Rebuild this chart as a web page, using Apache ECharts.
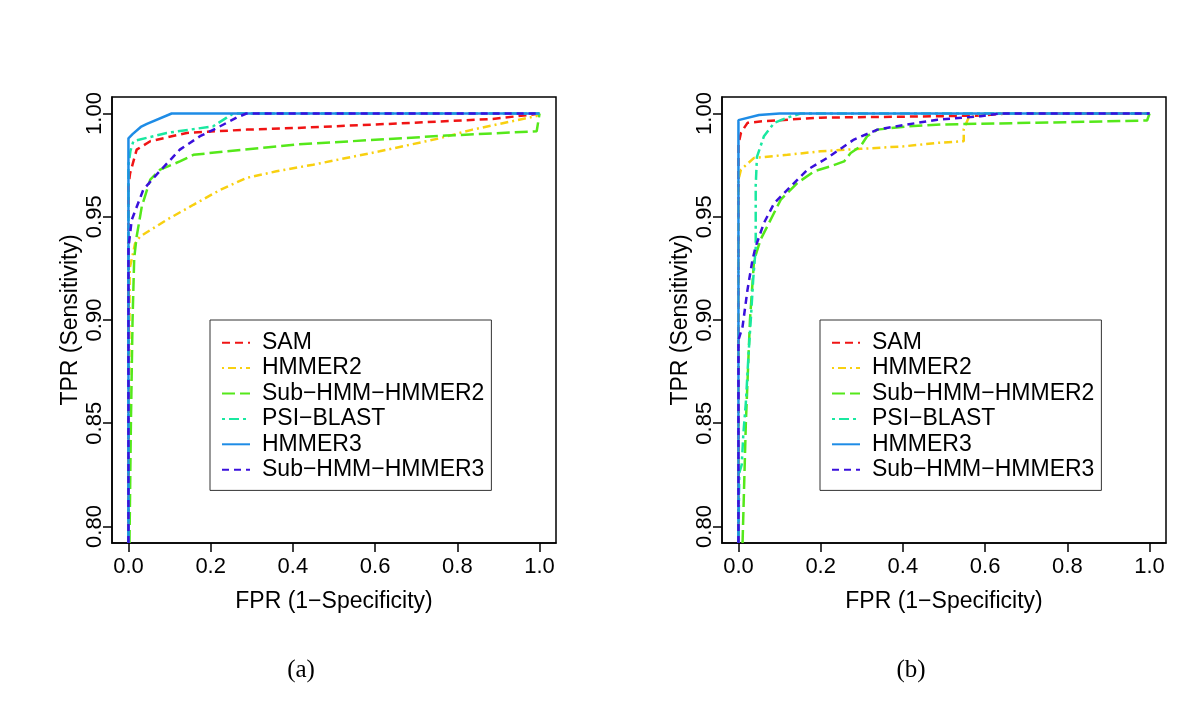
<!DOCTYPE html>
<html>
<head>
<meta charset="utf-8">
<script src="https://cdn.jsdelivr.net/npm/echarts@6/dist/echarts.min.js"></script>
<style>html,body{margin:0;padding:0;background:#fff;}#c{width:1200px;height:706px;}</style>
</head>
<body>
<div id="c"></div>
<script>
// ---- data ----
const seriesNames = ['SAM', 'HMMER2', 'Sub\u2212HMM\u2212HMMER2', 'PSI\u2212BLAST', 'HMMER3', 'Sub\u2212HMM\u2212HMMER3'];
const xTicks = [0, 0.2, 0.4, 0.6, 0.8, 1.0];
const yTicks = [0.80, 0.85, 0.90, 0.95, 1.00];
const captions = ['(a)', '(b)'];

// panel (a): [FPR, TPR]
const samA = [[0,0.792],[0,0.965],[0.004,0.971],[0.02,0.9825],[0.053,0.9866],[0.142,0.9906],[0.287,0.9922],[0.409,0.993],[0.692,0.9955],[0.886,0.9974],[0.983,0.9995],[1,1]];
const hmmer2A = [[0,0.792],[0.003,0.925],[0.012,0.933],[0.016,0.937],[0.028,0.9404],[0.093,0.9485],[0.158,0.9558],[0.223,0.963],[0.287,0.9688],[0.36,0.972],[0.449,0.9752],[0.611,0.9817],[0.757,0.988],[0.837,0.9922],[0.934,0.9963],[0.991,0.9987],[1,1]];
const subHmmer2A = [[0.0025,0.792],[0.006,0.85],[0.01,0.9],[0.014,0.93],[0.02,0.9404],[0.0325,0.955],[0.053,0.968],[0.077,0.9728],[0.125,0.9768],[0.158,0.98],[0.239,0.9817],[0.32,0.9833],[0.409,0.985],[0.611,0.9874],[0.773,0.9893],[0.993,0.9914],[1,1]];
const psiBlastA = [[0,0.792],[0,0.975],[0.005,0.982],[0.012,0.9866],[0.093,0.9906],[0.206,0.9938],[0.239,0.998],[0.255,1],[1,1]];
const hmmer3A = [[0,0.792],[0,0.988],[0.01,0.99],[0.03,0.9935],[0.045,0.995],[0.105,1],[1,1]];
const subHmmer3A = [[0,0.792],[0,0.935],[0.008,0.9485],[0.036,0.963],[0.061,0.9688],[0.125,0.9825],[0.174,0.989],[0.215,0.993],[0.263,0.998],[0.287,1],[1,1]];

// panel (b)
const samB = [[0,0.792],[0,0.985],[0.006,0.9906],[0.022,0.9955],[0.062,0.9963],[0.2,0.998],[0.49,0.9987],[0.589,0.999],[0.65,1],[1,1]];
const hmmer2B = [[0,0.792],[0,0.968],[0.006,0.9728],[0.038,0.9785],[0.119,0.98],[0.2,0.9817],[0.297,0.9829],[0.402,0.9841],[0.484,0.9858],[0.548,0.9866],[0.548,0.9925],[0.56,0.998],[0.6,1],[1,1]];
const subHmmer2B = [[0.01,0.792],[0.018,0.85],[0.028,0.9],[0.038,0.929],[0.046,0.934],[0.054,0.939],[0.07,0.9453],[0.103,0.9583],[0.143,0.9663],[0.184,0.972],[0.224,0.9744],[0.257,0.9768],[0.273,0.9809],[0.297,0.9841],[0.313,0.989],[0.338,0.9922],[0.411,0.9938],[0.492,0.9947],[0.718,0.9955],[0.994,0.9966],[1,1]];
const psiBlastB = [[0,0.792],[0.002,0.826],[0.008,0.83],[0.012,0.845],[0.018,0.86],[0.025,0.885],[0.03,0.9],[0.036,0.92],[0.042,0.935],[0.042,0.965],[0.045,0.979],[0.062,0.989],[0.087,0.9955],[0.119,0.998],[0.151,1],[1,1]];
const hmmer3B = [[0,0.792],[0,0.9968],[0.05,0.9993],[0.1,1],[1,1]];
const subHmmer3B = [[0,0.792],[0,0.8903],[0.01,0.8968],[0.022,0.9146],[0.034,0.929],[0.042,0.9356],[0.062,0.947],[0.087,0.9566],[0.127,0.9647],[0.168,0.9728],[0.216,0.9785],[0.281,0.9874],[0.338,0.9922],[0.411,0.9947],[0.484,0.997],[0.589,0.9987],[0.637,1],[1,1]];

const panelData = [
  [samA, hmmer2A, subHmmer2A, psiBlastA, hmmer3A, subHmmer3A],
  [samB, hmmer2B, subHmmer2B, psiBlastB, hmmer3B, subHmmer3B]
];

// ---- styles ----
const colors = ['#F01414', '#F8D010', '#55E81A', '#19E8A0', '#1E8CE6', '#3A10DC'];
const dashes = [[8, 5], [2, 4, 8, 4], [13, 5], [3, 4, 10, 4], 'solid', [7, 5]];
const FONT = '"Liberation Sans", Arial, Helvetica, sans-serif';
const gridLefts = [112, 722];

const grids = [], xAxes = [], yAxes = [], series = [], legends = [], graphics = [];
for (let p = 0; p < 2; p++) {
  grids.push({ left: gridLefts[p], top: 97, width: 444, height: 446, show: true, borderColor: '#000', borderWidth: 1.5, backgroundColor: 'transparent' });
  xAxes.push({
    type: 'value', gridIndex: p, min: -0.04, max: 1.04, position: 'bottom',
    name: 'FPR (1\u2212Specificity)', nameLocation: 'middle', nameGap: 47,
    nameTextStyle: { fontFamily: FONT, fontSize: 23, color: '#000' },
    axisLine: { show: true, onZero: false, lineStyle: { color: '#000', width: 1.5 } },
    axisTick: { show: true, inside: false, length: 9, customValues: xTicks, lineStyle: { color: '#000', width: 1.5 } },
    axisLabel: { customValues: xTicks, margin: 13, fontFamily: FONT, fontSize: 22, color: '#000', formatter: v => v.toFixed(1) },
    splitLine: { show: false }
  });
  yAxes.push({
    type: 'value', gridIndex: p, min: 0.792, max: 1.008, position: 'left',
    name: 'TPR (Sensitivity)', nameLocation: 'middle', nameGap: 30, nameMoveOverlap: false,
    nameTextStyle: { fontFamily: FONT, fontSize: 23, color: '#000' },
    axisLine: { show: true, onZero: false, lineStyle: { color: '#000', width: 1.5 } },
    axisTick: { show: true, inside: false, length: 9, customValues: yTicks, lineStyle: { color: '#000', width: 1.5 } },
    axisLabel: { customValues: yTicks, rotate: 90, margin: 6, fontFamily: FONT, fontSize: 22, color: '#000', formatter: v => v.toFixed(2) },
    splitLine: { show: false }
  });
  for (let s = 0; s < seriesNames.length; s++) {
    series.push({
      type: 'line', name: seriesNames[s], xAxisIndex: p, yAxisIndex: p,
      data: panelData[p][s], showSymbol: false, symbol: 'none', animation: false,
      lineStyle: { color: colors[s], width: 2.5, type: dashes[s] },
      itemStyle: { color: colors[s] }, z: 2 + s
    });
  }
  legends.push({
    orient: 'vertical', left: gridLefts[p] + 98, top: 320,
    data: seriesNames, itemWidth: 28, itemHeight: 10, itemGap: 0,
    padding: [10, 7, 8, 11], borderColor: '#333', borderWidth: 1, backgroundColor: '#fff',
    selectedMode: false, itemStyle: { opacity: 0 },
    textStyle: { fontFamily: FONT, fontSize: 23, color: '#000', lineHeight: 25.4, padding: [0, 0, 0, 7] }
  });
  graphics.push({ type: 'text', x: gridLefts[p] + 189, y: 670, style: { text: captions[p], fill: '#000', font: '25px "Liberation Serif", "DejaVu Serif", serif', align: 'center', verticalAlign: 'middle' } });
}

const chart = echarts.init(document.getElementById('c'), null, { renderer: 'canvas' });
chart.setOption({
  animation: false,
  backgroundColor: '#fff',
  grid: grids, xAxis: xAxes, yAxis: yAxes, series: series, legend: legends, graphic: graphics
});
</script>
</body>
</html>
